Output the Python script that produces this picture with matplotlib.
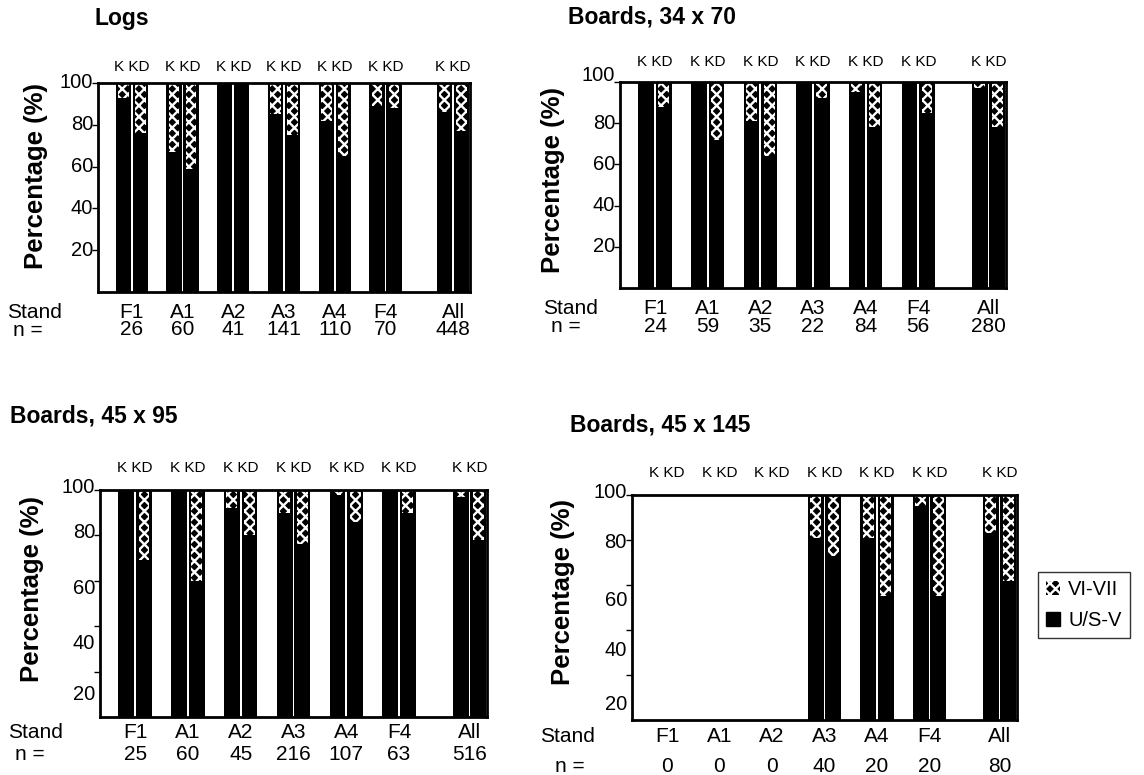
import numpy as np
import matplotlib.pyplot as plt
from matplotlib.patches import Patch

plt.rcParams['font.family'] = ['Liberation Sans', 'DejaVu Sans']
plt.rcParams['hatch.linewidth'] = 1.7

W, H = 1144, 775

stands = ["F1", "A1", "A2", "A3", "A4", "F4", "All"]
yticks = [20, 40, 60, 80, 100]

# share of U/S-V (black); the rest up to 100 is VI-VII (hatched)
logs_n = [26, 60, 41, 141, 110, 70, 448]
logs_k = [93, 67, 100, 85, 82, 89, 86]
logs_kd = [76, 59, 100, 75, 65, 88, 77]

b3470_n = [24, 59, 35, 22, 84, 56, 280]
b3470_k = [100, 100, 81, 100, 95, 100, 97]
b3470_kd = [88, 72, 64, 92, 78, 85, 78]

b4595_n = [25, 60, 45, 216, 107, 63, 516]
b4595_k = [100, 100, 92, 90, 98, 100, 97]
b4595_kd = [69, 60, 80, 76, 86, 90, 78]

b45145_n = [0, 0, 0, 40, 20, 20, 80]
b45145_k = [0, 0, 0, 81, 81, 95, 83]
b45145_kd = [0, 0, 0, 73, 55, 55, 62]

# slot positions: K, KD, gap ... extra gap before "All"
x_k = np.arange(7) * 3 + 1.0
x_k[-1] += 1
x_kd = x_k + 1
x_mid = x_k + 0.5

panels = [
    dict(title="Logs", n=logs_n, k=logs_k, kd=logs_kd,
         box=(98, 83, 470, 292), title_xy=(95, 18), ylab_xy=(36, 176),
         kkd=16, stand_y=313, n_y=330, stand_x=7, n_x=13,
         lab_frac=[0.2, 0.4, 0.6, 0.8, 1.0]),
    dict(title="Boards, 34 x 70", n=b3470_n, k=b3470_k, kd=b3470_kd,
         box=(620, 82, 1006, 288), title_xy=(568, 17), ylab_xy=(553, 180),
         kkd=20, stand_y=309, n_y=326, stand_x=543, n_x=551,
         lab_frac=[0.2, 0.4, 0.6, 0.8, 1.03]),
    dict(title="Boards, 45 x 95", n=b4595_n, k=b4595_k, kd=b4595_kd,
         box=(100, 490, 487, 717), title_xy=(10, 416), ylab_xy=(32, 589),
         kkd=22, stand_y=732, n_y=755, stand_x=8, n_x=15,
         lab_frac=[0.101, 0.322, 0.564, 0.811, 1.013]),
    dict(title="Boards, 45 x 145", n=b45145_n, k=b45145_k, kd=b45145_kd,
         box=(632, 495, 1017, 720), title_xy=(570, 425), ylab_xy=(563, 592),
         kkd=22, stand_y=737, n_y=767, stand_x=540, n_x=555,
         lab_frac=[0.067, 0.311, 0.533, 0.791, 1.013]),
]

fig = plt.figure(figsize=(W / 100, H / 100), dpi=100)


def fx(x):
    return x / W


def fy(y):
    return 1 - y / H


for p in panels:
    l, t, r, b = p["box"]
    ax = fig.add_axes([fx(l), fy(b), (r - l) / W, (b - t) / H])
    has = np.array(p["n"]) > 0

    for xs, vals in ((x_k, p["k"]), (x_kd, p["kd"])):
        v = np.array(vals, dtype=float)[has]
        xx = xs[has]
        ax.bar(xx, v, width=0.9, color="black", linewidth=0)
        ax.bar(xx, 100 - v, bottom=v, width=0.9, color="black", linewidth=0)
        ax.bar(xx, 100 - v, bottom=v, width=0.62, facecolor="black",
               edgecolor="white", linewidth=0, hatch="xxx")

    ax.set_xlim(-0.5, 21.5)
    ax.set_ylim(0, 100)
    ax.set_xticks([])
    ax.set_yticks(yticks)
    ax.set_yticklabels([])
    ax.tick_params(axis="y", direction="out", length=4, width=1)
    for s in ax.spines.values():
        s.set_linewidth(2)

    for v, fr in zip(yticks, p["lab_frac"]):
        ax.annotate(str(v), xy=(0, fr), xycoords="axes fraction",
                    xytext=(-5, 0), textcoords="offset pixels",
                    ha="right", va="center", fontsize=14.5)

    tr = ax.get_xaxis_transform()
    for xm, name, n in zip(x_mid, stands, p["n"]):
        ax.annotate("K KD", xy=(xm, 1), xycoords=tr, xytext=(0, p["kkd"]),
                    textcoords="offset pixels", ha="center", va="center",
                    fontsize=11)
        ax.annotate(name, xy=(xm, 0), xycoords=tr,
                    xytext=(0, -(p["stand_y"] - b)), textcoords="offset pixels",
                    ha="center", va="center", fontsize=15)
        ax.annotate(str(n), xy=(xm, 0), xycoords=tr,
                    xytext=(0, -(p["n_y"] - b)), textcoords="offset pixels",
                    ha="center", va="center", fontsize=15)

    fig.text(fx(p["stand_x"]), fy(p["stand_y"]), "Stand", ha="left",
             va="center", fontsize=15)
    fig.text(fx(p["n_x"]), fy(p["n_y"]), "n =", ha="left", va="center",
             fontsize=15)
    fig.text(fx(p["title_xy"][0]), fy(p["title_xy"][1]), p["title"],
             ha="left", va="center", fontsize=16.5, fontweight="bold")
    fig.text(fx(p["ylab_xy"][0]), fy(p["ylab_xy"][1]), "Percentage (%)",
             ha="center", va="center", rotation=90, fontsize=18.5,
             fontweight="bold")

handles = [Patch(facecolor="black", edgecolor="white", linewidth=0, hatch="xxx"),
           Patch(facecolor="black", edgecolor="black")]
leg = fig.legend(handles, ["VI-VII", "U/S-V"], loc="center",
                 bbox_to_anchor=(fx(1084), fy(605)), fontsize=14.5,
                 frameon=True, fancybox=False, edgecolor="black",
                 handlelength=0.7, handleheight=0.7, handletextpad=0.4,
                 borderpad=0.4, labelspacing=0.6)
leg.get_frame().set_linewidth(1)

fig.savefig("out.png", dpi=100)
